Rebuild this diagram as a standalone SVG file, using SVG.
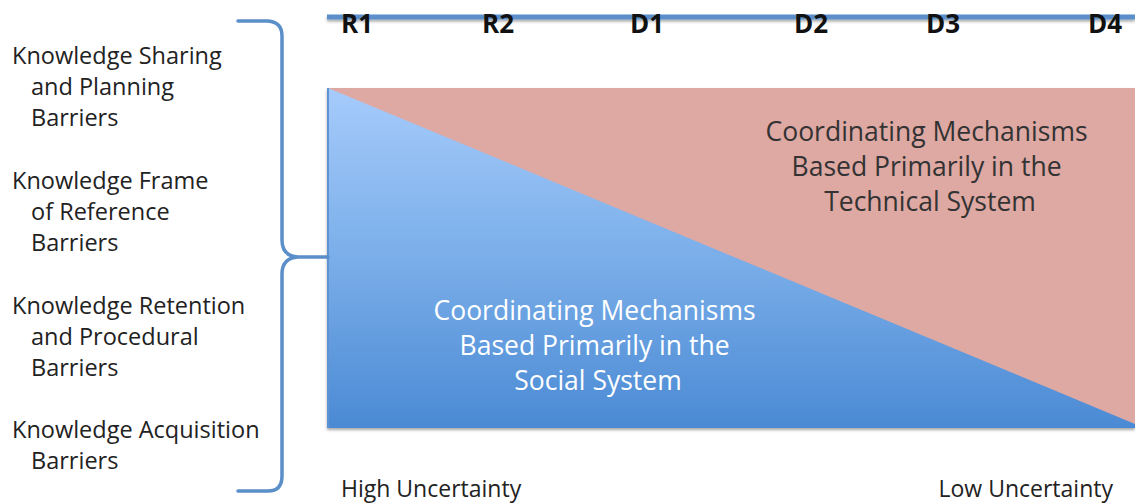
<svg xmlns="http://www.w3.org/2000/svg" width="1135" height="503" viewBox="0 0 1135 503">
<defs>
<linearGradient id="blueGrad" x1="0" y1="0" x2="0" y2="1">
<stop offset="0" stop-color="#a6cbfb"/>
<stop offset="0.5" stop-color="#7aaee9"/>
<stop offset="1" stop-color="#4b8ad4"/>
</linearGradient>
<filter id="shadow" filterUnits="userSpaceOnUse" x="0" y="0" width="1135" height="503">
<feGaussianBlur in="SourceAlpha" stdDeviation="1.5"/>
<feOffset dx="0" dy="2" result="b"/>
<feComponentTransfer><feFuncA type="linear" slope="0.35"/></feComponentTransfer>
<feMerge><feMergeNode/><feMergeNode in="SourceGraphic"/></feMerge>
</filter>
</defs>
<style>
.lbl{font-family:"Open Sans","Liberation Sans",sans-serif;font-size:23.5px;fill:#222;}
.axis{font-family:"Open Sans","Liberation Sans",sans-serif;font-size:26px;font-weight:bold;fill:#111;}
.mech{font-family:"Open Sans","Liberation Sans",sans-serif;font-size:26.5px;text-anchor:middle;}
.bot{font-family:"Open Sans","Liberation Sans",sans-serif;font-size:23px;fill:#222;}
.brace{fill:none;stroke:#5b8fc9;stroke-width:3.5;stroke-linecap:round;stroke-linejoin:round;}
</style>

<g id="scale">
<rect x="327" y="14.5" width="808" height="5" fill="#5b8fc9" filter="url(#shadow)"/>
<text class="axis" x="357" y="33" text-anchor="middle">R1</text>
<text class="axis" x="498" y="33" text-anchor="middle">R2</text>
<text class="axis" x="647" y="33" text-anchor="middle">D1</text>
<text class="axis" x="811" y="33" text-anchor="middle">D2</text>
<text class="axis" x="943" y="33" text-anchor="middle">D3</text>
<text class="axis" x="1105" y="33" text-anchor="middle">D4</text>
</g>

<g id="chart" filter="url(#shadow)">
<rect x="328" y="88" width="807" height="340" fill="#dea8a3"/>
<polygon points="328,88 1135,424 1135,428 328,428" fill="url(#blueGrad)"/>
<line x1="328" y1="88" x2="328" y2="428" stroke="#5f93d3" stroke-width="2"/>
</g>

<g id="technical">
<text class="mech" fill="#333">
<tspan x="930" y="141">Coordinating Mechanisms</tspan>
<tspan x="930" y="176">Based Primarily in the</tspan>
<tspan x="930" y="211">Technical System</tspan>
</text>
</g>

<g id="social">
<text class="mech" fill="#ffffff">
<tspan x="598" y="320">Coordinating Mechanisms</tspan>
<tspan x="598" y="355">Based Primarily in the</tspan>
<tspan x="598" y="390">Social System</tspan>
</text>
</g>

<g id="brace">
<path class="brace" d="M238,21 L268,21 Q282,22 282,36 L282,240 Q282,256 298,257 L328,257 M328,257 L298,257 Q282,258 282,274 L282,476 Q282,491 268,491 L238,491"/>
</g>

<g id="barriers">
<text class="lbl"><tspan x="12" y="64">Knowledge Sharing</tspan><tspan x="31" y="95">and Planning</tspan><tspan x="31" y="126">Barriers</tspan></text>
<text class="lbl"><tspan x="12" y="189">Knowledge Frame</tspan><tspan x="31" y="220">of Reference</tspan><tspan x="31" y="251">Barriers</tspan></text>
<text class="lbl"><tspan x="12" y="314">Knowledge Retention</tspan><tspan x="31" y="345">and Procedural</tspan><tspan x="31" y="376">Barriers</tspan></text>
<text class="lbl"><tspan x="12" y="438">Knowledge Acquisition</tspan><tspan x="31" y="469">Barriers</tspan></text>
</g>

<g id="uncertainty">
<text class="bot" x="341" y="497">High Uncertainty</text>
<text class="bot" x="1113" y="497" text-anchor="end">Low Uncertainty</text>
</g>
</svg>
